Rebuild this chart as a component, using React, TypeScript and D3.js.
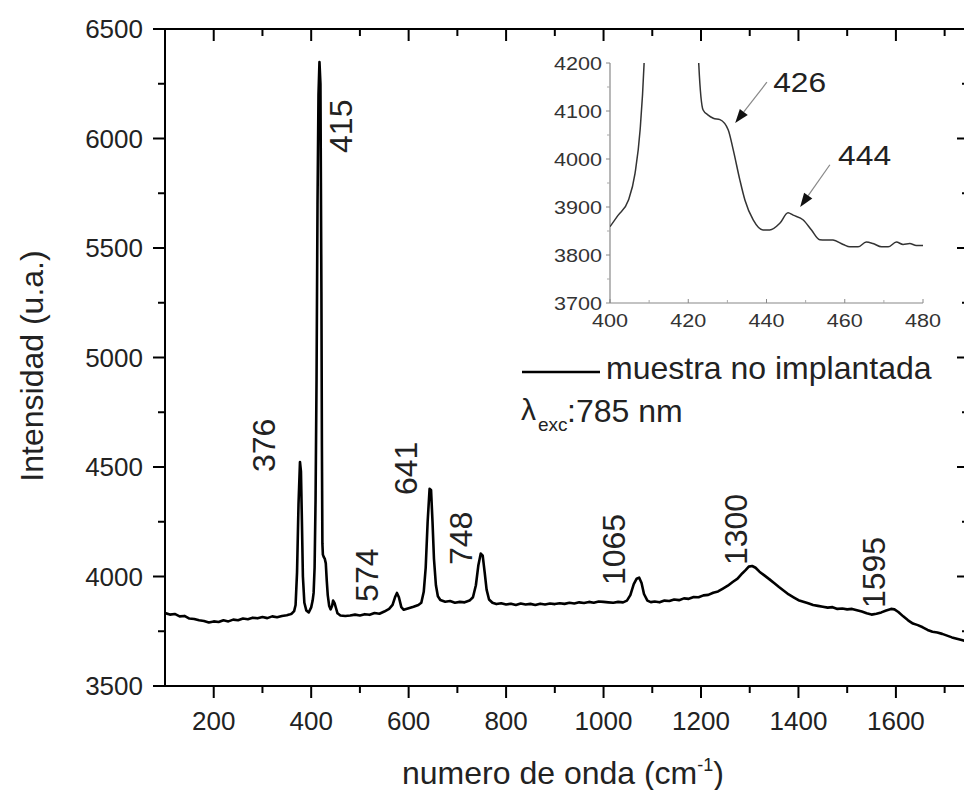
import React from "react";
import * as d3 from "d3";

// ---------- main spectrum ----------
const waveNumber = [
  100, 110, 120, 130, 140, 150, 160, 170, 180, 190, 200, 210, 220, 230, 240, 250, 260, 270, 280, 290,
  300, 310, 320, 330, 340, 350, 355, 360, 365, 368, 371, 374, 377, 379, 381, 383, 386, 390, 395, 400,
  403, 405, 407, 409, 411, 413, 415, 417, 419, 421, 422, 423, 424, 426, 428, 430, 432, 434, 437, 440,
  443, 445, 448, 451, 454, 460, 470, 480, 490, 500, 510, 520, 530, 540, 550, 560, 567, 572, 576, 580,
  585, 590, 600, 610, 620, 626, 631, 635, 639, 643, 646, 649, 652, 656, 660, 665, 675, 685, 695, 705,
  715, 725, 732, 738, 743, 748, 752, 756, 760, 765, 772, 780, 790, 800, 810, 820, 830, 840, 850, 860,
  870, 880, 890, 900, 910, 920, 930, 940, 950, 960, 970, 980, 990, 1000, 1010, 1020, 1030, 1040, 1048, 1055,
  1062, 1068, 1073, 1078, 1083, 1090, 1097, 1105, 1115, 1125, 1135, 1145, 1155, 1165, 1175, 1185, 1195, 1205, 1215, 1225,
  1235, 1245, 1255, 1265, 1275, 1285, 1292, 1298, 1305, 1312, 1320, 1330, 1340, 1350, 1360, 1370, 1380, 1390, 1400, 1410,
  1420, 1430, 1440, 1450, 1460, 1470, 1480, 1490, 1500, 1510, 1520, 1530, 1540, 1550, 1560, 1570, 1580, 1590, 1597, 1605,
  1615, 1625, 1635, 1645, 1655, 1665, 1675, 1685, 1695, 1705, 1715, 1725, 1735, 1745, 1750,
];
const intensity = [
  3833, 3826, 3829, 3818, 3820, 3808, 3806, 3800, 3797, 3790, 3795, 3792, 3800, 3795, 3803, 3800, 3808, 3805, 3812, 3809,
  3815, 3810, 3818, 3814, 3820, 3823, 3826, 3830, 3842, 3870, 4020, 4330, 4523, 4480, 4250, 4000, 3880, 3845, 3836, 3859,
  3890, 3925, 4040, 4350, 4900, 5700, 6200, 6349, 6250, 5300, 4600, 4150, 4100, 4088, 4080, 4060, 3980, 3915, 3865, 3850,
  3866, 3890, 3878, 3855, 3832, 3822, 3820, 3822, 3826, 3822, 3828, 3825, 3833, 3830, 3840, 3852, 3870, 3905, 3925, 3905,
  3860, 3848, 3855, 3862, 3870, 3880, 3930, 4040, 4250, 4400, 4395, 4250, 4080, 3960, 3910, 3893, 3885, 3888, 3880, 3884,
  3882, 3890, 3905, 3960, 4050, 4105, 4095, 4020, 3940, 3895, 3880, 3874, 3878, 3872, 3876, 3870, 3877, 3872, 3875, 3870,
  3876, 3872, 3877, 3874, 3878, 3875, 3880, 3877, 3882, 3879, 3884, 3880, 3886, 3884, 3882, 3880, 3884, 3882, 3890, 3915,
  3965, 3990, 3995, 3970, 3920, 3890, 3883, 3886, 3882, 3890, 3888, 3895, 3892, 3900, 3898, 3906, 3905, 3914, 3916, 3926,
  3932, 3945, 3958, 3975, 3990, 4015, 4030, 4045, 4048, 4040, 4022, 4005, 3988, 3970, 3952, 3935, 3918, 3905, 3892, 3885,
  3878, 3870, 3866, 3862, 3858, 3860, 3852, 3854, 3850, 3852, 3846, 3840, 3832, 3826, 3830, 3836, 3845, 3852, 3850, 3838,
  3818, 3800, 3785, 3778, 3768, 3756, 3748, 3744, 3738, 3730, 3722, 3716, 3710, 3704, 3702,
];

const xMajorTicks = [200, 400, 600, 800, 1000, 1200, 1400, 1600];
const xMinorTicks = [300, 500, 700, 900, 1100, 1300, 1500, 1700];
const yMajorTicks = [3500, 4000, 4500, 5000, 5500, 6000, 6500];
const yMinorTicks = [3750, 4250, 4750, 5250, 5750, 6250];

// peak annotations (rotated text): anchor wave number / intensity
const peakLabels = ["376", "415", "574", "641", "748", "1065", "1300", "1595"];
const peakLabelWave = [326, 484, 537, 617, 730, 1044, 1294, 1578];
const peakLabelInt = [4477, 5934, 3884, 4372, 4052, 3961, 4052, 3856];

// ---------- inset ----------
const insetWave = [
  400, 402, 404.7, 406.4, 407.7, 408.7, 409.5, 421.8, 422.7, 423.8, 425, 426.4, 428.1, 430.2, 431.5, 433.2, 434.5, 436.6,
  439.1, 440.8, 443.4, 445.5, 446.8, 449.4, 451.5, 453.6, 457, 459.6, 461.3, 463.4, 465.5, 467.2, 469.4, 471.1, 473.2,
  474.9, 476.6, 478.3, 480,
];
const insetIntensity = [
  3859, 3882, 3914, 3970, 4061, 4197, 4400, 4400, 4196, 4102, 4092, 4085, 4082, 4061, 4019, 3956, 3914, 3873,
  3852, 3852, 3866, 3888, 3883, 3873, 3852, 3832, 3831, 3822, 3817, 3817, 3827, 3824, 3817, 3817, 3827,
  3822, 3824, 3820, 3820,
];
const insetXTicks = [400, 420, 440, 460, 480];
const insetXMinor = [410, 430, 450, 470];
const insetYTicks = [3700, 3800, 3900, 4000, 4100, 4200];
const insetYMinor = [3750, 3850, 3950, 4050, 4150];

const insetNoteLabels = ["426", "444"];
const insetNoteTip = [[432, 4075], [448.6, 3900]];
const insetNoteTail = [[440.1, 4160], [456.2, 3988]];
const insetNoteText = [[441.7, 4140], [458.3, 3988]];

const FONT = "'Liberation Sans', Arial, Helvetica, sans-serif";

export default function App() {
  const W = 964;
  const H = 790;
  const x = d3.scaleLinear().domain([100, 1750]).range([165, 969]);
  const y = d3.scaleLinear().domain([3500, 6500]).range([686, 29]);

  const ix = d3.scaleLinear().domain([400, 480]).range([610, 923]);
  const iy = d3.scaleLinear().domain([3700, 4200]).range([303, 63]);

  const mainData = waveNumber.map((w, i) => [w, intensity[i]] as [number, number]);
  const mainLine = d3
    .line<[number, number]>()
    .x((d) => x(d[0]))
    .y((d) => y(d[1]))
    .curve(d3.curveLinear);

  const insetData = insetWave.map((w, i) => [w, insetIntensity[i]] as [number, number]);
  const insetLine = d3
    .line<[number, number]>()
    .x((d) => ix(d[0]))
    .y((d) => iy(d[1]))
    .curve(d3.curveMonotoneX);

  const [x0, x1] = x.range();
  const [yb, yt] = y.range();

  const arrowHead = (tip: number[], tail: number[]) => {
    const tx = ix(tip[0]);
    const ty = iy(tip[1]);
    const sx = ix(tail[0]);
    const sy = iy(tail[1]);
    const dx = tx - sx;
    const dy = ty - sy;
    const len = Math.hypot(dx, dy);
    const ux = dx / len;
    const uy = dy / len;
    const bx = tx - ux * 14;
    const by = ty - uy * 14;
    const px = -uy * 5;
    const py = ux * 5;
    return {
      line: { x1: sx, y1: sy, x2: bx, y2: by },
      poly: `${tx},${ty} ${bx + px},${by + py} ${bx - px},${by - py}`,
    };
  };

  return (
    <svg
      width={W}
      height={H}
      style={{ position: "absolute", left: 0, top: 0, background: "#fff" }}
      fontFamily={FONT}
    >
      <defs>
        <clipPath id="insetClip">
          <rect x={610} y={63} width={313} height={240} />
        </clipPath>
        <clipPath id="mainClip">
          <rect x={x0} y={yt} width={x1 - x0} height={yb - yt} />
        </clipPath>
      </defs>
      <rect x={0} y={0} width={W} height={H} fill="#fff" />

      {/* main spectrum */}
      <path
        d={mainLine(mainData) || ""}
        fill="none"
        stroke="#000"
        strokeWidth={2.6}
        strokeLinejoin="round"
        clipPath="url(#mainClip)"
      />

      {/* frame */}
      <rect x={x0} y={yt} width={x1 - x0} height={yb - yt} fill="none" stroke="#000" strokeWidth={2} />

      {/* bottom ticks (outward) and top ticks (inward) */}
      {xMajorTicks.map((t) => (
        <g key={"xM" + t}>
          <line x1={x(t)} x2={x(t)} y1={yb} y2={yb + 12} stroke="#000" strokeWidth={2} />
          <line x1={x(t)} x2={x(t)} y1={yt} y2={yt + 12} stroke="#000" strokeWidth={2} />
          <text x={x(t)} y={730} textAnchor="middle" fontSize={26} fill="#222">
            {t}
          </text>
        </g>
      ))}
      {xMinorTicks.map((t) => (
        <g key={"xm" + t}>
          <line x1={x(t)} x2={x(t)} y1={yb} y2={yb + 7} stroke="#000" strokeWidth={2} />
          <line x1={x(t)} x2={x(t)} y1={yt} y2={yt + 7} stroke="#000" strokeWidth={2} />
        </g>
      ))}

      {/* left ticks (outward) and right ticks (inward) */}
      {yMajorTicks.map((t) => (
        <g key={"yM" + t}>
          <line x1={x0 - 12} x2={x0} y1={y(t)} y2={y(t)} stroke="#000" strokeWidth={2} />
          <line x1={x1 - 12} x2={x1} y1={y(t)} y2={y(t)} stroke="#000" strokeWidth={2} />
          <text x={143} y={y(t)} dy="0.35em" textAnchor="end" fontSize={26} fill="#222">
            {t}
          </text>
        </g>
      ))}
      {yMinorTicks.map((t) => (
        <g key={"ym" + t}>
          <line x1={x0 - 7} x2={x0} y1={y(t)} y2={y(t)} stroke="#000" strokeWidth={2} />
          <line x1={x1 - 7} x2={x1} y1={y(t)} y2={y(t)} stroke="#000" strokeWidth={2} />
        </g>
      ))}

      {/* axis titles */}
      <text
        transform={`translate(43,366) rotate(-90)`}
        textAnchor="middle"
        fontSize={32}
        fill="#222"
      >
        Intensidad (u.a.)
      </text>
      <text x={402} y={784} fontSize={32} fill="#222">
        numero de onda (cm
        <tspan fontSize={18} dy={-13}>
          -1
        </tspan>
        <tspan dy={13}>)</tspan>
      </text>

      {/* peak labels */}
      {peakLabels.map((lab, i) => (
        <text
          key={"pl" + lab}
          transform={`translate(${x(peakLabelWave[i])},${y(peakLabelInt[i])}) rotate(-90)`}
          fontSize={32}
          fill="#222"
        >
          {lab}
        </text>
      ))}

      {/* legend */}
      <line x1={522} x2={600} y1={372} y2={372} stroke="#000" strokeWidth={2.6} />
      <text x={606} y={379} fontSize={32} fill="#222">
        muestra no implantada
      </text>
      <text x={521} y={420} fontSize={30} fill="#222">
        λ
        <tspan x={538} fontSize={19} dy={11}>
          exc
        </tspan>
        <tspan x={567} dy={-9} fontSize={32}>
          :785 nm
        </tspan>
      </text>

      {/* ---------- inset ---------- */}
      <line x1={610} x2={610} y1={63} y2={303} stroke="#888" strokeWidth={1.2} />
      <line x1={610} x2={923} y1={303} y2={303} stroke="#888" strokeWidth={1.2} />
      {insetYTicks.map((t) => (
        <g key={"iy" + t}>
          <line x1={606} x2={610} y1={iy(t)} y2={iy(t)} stroke="#888" strokeWidth={1} />
          <text
            x={602}
            y={iy(t)}
            dy="0.36em"
            textAnchor="end"
            fontSize={19}
            textLength={48}
            lengthAdjust="spacingAndGlyphs"
            fill="#333"
          >
            {t}
          </text>
        </g>
      ))}
      {insetYMinor.map((t) => (
        <line key={"iym" + t} x1={607} x2={610} y1={iy(t)} y2={iy(t)} stroke="#aaa" strokeWidth={1} />
      ))}
      {insetXTicks.map((t) => (
        <g key={"ix" + t}>
          <line x1={ix(t)} x2={ix(t)} y1={303} y2={299} stroke="#888" strokeWidth={1} />
          <text
            x={ix(t)}
            y={327}
            textAnchor="middle"
            fontSize={19}
            textLength={36}
            lengthAdjust="spacingAndGlyphs"
            fill="#333"
          >
            {t}
          </text>
        </g>
      ))}
      {insetXMinor.map((t) => (
        <line key={"ixm" + t} x1={ix(t)} x2={ix(t)} y1={303} y2={300} stroke="#aaa" strokeWidth={1} />
      ))}
      <path
        d={insetLine(insetData) || ""}
        fill="none"
        stroke="#333"
        strokeWidth={1.5}
        clipPath="url(#insetClip)"
      />
      {insetNoteLabels.map((lab, i) => {
        const a = arrowHead(insetNoteTip[i], insetNoteTail[i]);
        return (
          <g key={"in" + lab}>
            <line {...a.line} stroke="#888" strokeWidth={1.2} />
            <polygon points={a.poly} fill="#111" />
            <text
              x={ix(insetNoteText[i][0])}
              y={iy(insetNoteText[i][1])}
              fontSize={27}
              textLength={53}
              lengthAdjust="spacingAndGlyphs"
              fill="#222"
            >
              {lab}
            </text>
          </g>
        );
      })}
    </svg>
  );
}
